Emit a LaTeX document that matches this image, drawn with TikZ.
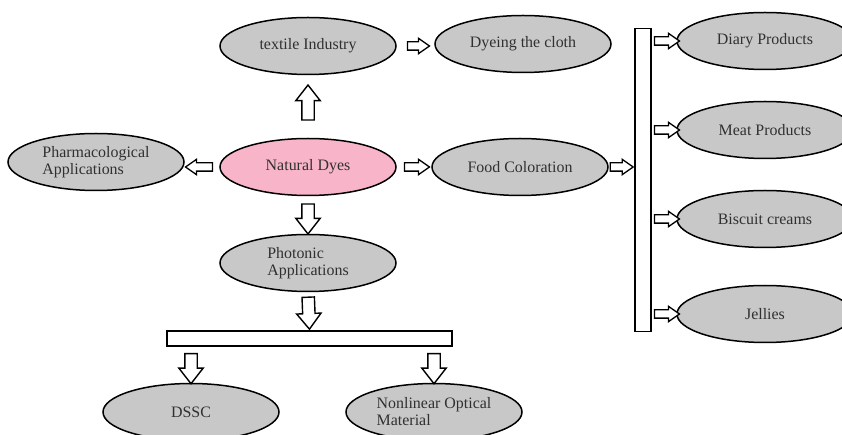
\documentclass[tikz,border=0pt]{standalone}
\usepackage{fontspec}
\setmainfont{Liberation Serif}
\usetikzlibrary{shapes.geometric,shapes.arrows}
\definecolor{ellgray}{HTML}{C8C8C8}
\definecolor{ellpink}{HTML}{F8B4C8}
\definecolor{txt}{HTML}{303030}
\tikzset{
  ell/.style={ellipse, draw=black, line width=1.5bp, fill=ellgray, minimum width=176bp, minimum height=57bp, inner sep=0pt, font=\fontsize{16}{17}\selectfont, text=txt, align=left},
  barbox/.style={rectangle, draw=black, line width=1.4bp, fill=white, inner sep=0pt},
  harrow/.style={single arrow, draw=black, line width=1.3bp, fill=white, inner xsep=0pt, inner ysep=3.5bp, single arrow head extend=3.5bp, single arrow tip angle=70, single arrow head indent=0pt, sloped, allow upside down, minimum height=#1},
  harrow/.default=24bp,
  varrow/.style={single arrow, draw=black, line width=1.4bp, fill=white, inner xsep=0pt, inner ysep=5.5bp, single arrow head extend=6bp, single arrow tip angle=76, single arrow head indent=0pt, sloped, allow upside down, minimum height=#1},
  varrow/.default=32bp
}
\begin{document}
\begin{tikzpicture}[x=1bp,y=-1bp]
\useasboundingbox (0,0) rectangle (842,435);
% ellipses
\node[ell] (tex) at (308,46) {textile Industry};
\node[ell] (dye) at (523,44) {Dyeing the cloth};
\node[ell, fill=ellpink] (nat) at (308,167) {Natural Dyes};
\node[ell] (pha) at (96,162) {Pharmacological\\Applications};
\node[ell] (food) at (520,167) {Food Coloration};
\node[ell] (pho) at (308,263) {Photonic\\Applications};
\node[ell] (dssc) at (191,412) {DSSC};
\node[ell] (nlo) at (434,412) {Nonlinear Optical\\Material};
\node[ell] (dia) at (765,41) {Diary Products};
\node[ell] (meat) at (765,130) {Meat Products};
\node[ell] (bis) at (765,219) {Biscuit creams};
\node[ell] (jel) at (765,314) {Jellies};
% bars
\node[barbox, minimum width=16bp, minimum height=303bp] (vbar) at (643,180) {};
\node[barbox, minimum width=285bp, minimum height=15bp] (hbar) at (309.5,338.5) {};
% arrows
\path (nat.north) -- (tex.south) node[midway, varrow=35bp] {};
\path (tex.east) -- (tex.east -| dye.west) node[midway, harrow=22bp] {};
\path (nat.west) -- (nat.west -| pha.east) node[midway, harrow=27bp] {};
\path (nat.east) -- (nat.east -| food.west) node[midway, harrow=25bp] {};
\path (nat.south) -- (pho.north) node[midway, varrow=30bp] {};
\path (pho.south) -- (hbar.north) node[pos=1, anchor=tip, varrow=32bp] {};
\path (hbar.south -| dssc.north) -- (dssc.north) node[midway, varrow=30bp] {};
\path (hbar.south -| nlo.north) -- (nlo.north) node[midway, varrow=30bp] {};
\path (food.east) -- (food.east -| vbar.west) node[pos=1, anchor=tip, harrow=23bp] {};
\foreach \t in {dia,meat,bis,jel}{
  \path (vbar.east |- \t.west) -- (\t.west) node[midway, harrow=25bp] {};
}
\end{tikzpicture}
\end{document}
